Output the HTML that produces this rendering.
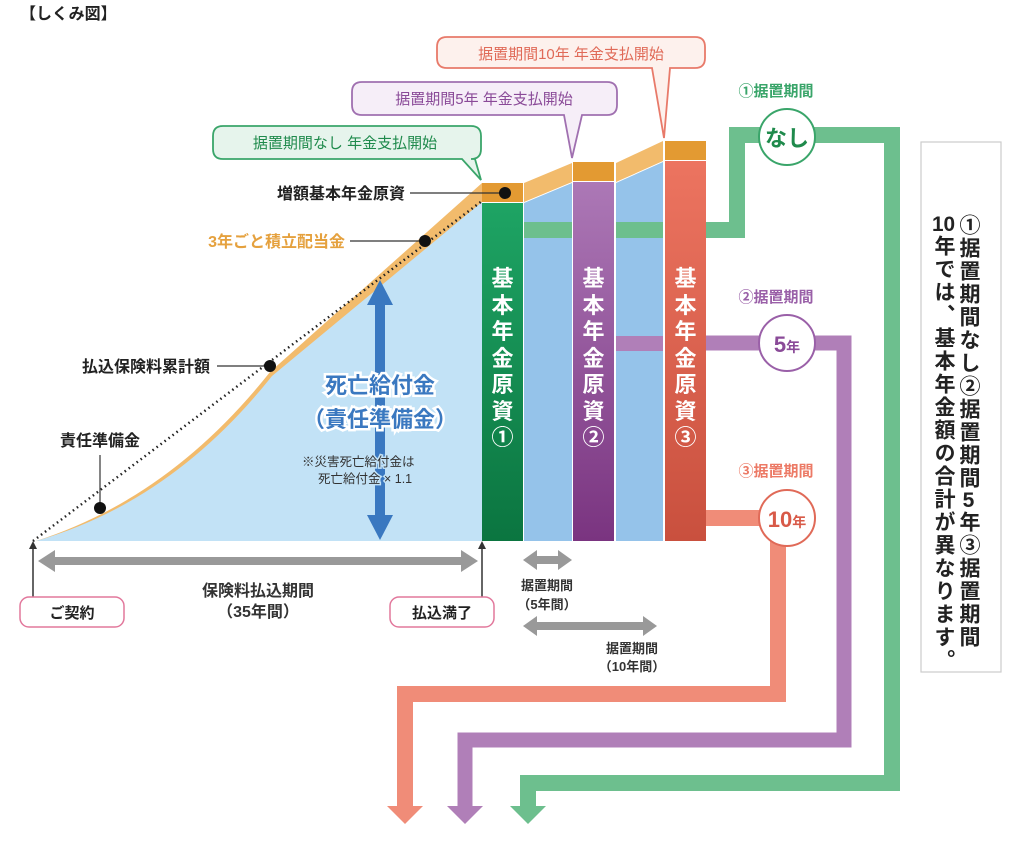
<!DOCTYPE html>
<html><head><meta charset="utf-8">
<style>
body{margin:0;background:#fff;}
#w{position:relative;width:1024px;height:848px;overflow:hidden;font-family:"Liberation Sans","Noto Sans CJK JP",sans-serif;}
svg{position:absolute;left:0;top:0;}
svg text{font-family:"Liberation Sans","Noto Sans CJK JP",sans-serif;font-weight:bold;}
.vc{position:absolute;writing-mode:vertical-rl;font-weight:bold;font-size:21px;line-height:24px;letter-spacing:2px;color:#222;}
.col{position:absolute;width:41px;text-align:center;color:#fff;font-weight:bold;font-size:22px;line-height:26.5px;}
.tcy{text-combine-upright:all;}
</style></head><body><div id="w">
<svg width="1024" height="848" viewBox="0 0 1024 848">
<text x="20" y="19" font-size="16" fill="#222">【しくみ図】</text>
<g fill="none" stroke-linejoin="miter">
<polyline points="706,230 737,230 737,135 892,135 892,783 528,783 528,808" stroke="#6dbf8e" stroke-width="16"/>
<polyline points="706,343 844,343 844,740 465,740 465,808" stroke="#b07fb8" stroke-width="15"/>
<polyline points="706,518 778,518 778,694 405,694 405,808" stroke="#f08c78" stroke-width="16"/>
</g>
<polygon points="387,806 423,806 405,824" fill="#f08c78"/>
<polygon points="447,806 483,806 465,824" fill="#b07fb8"/>
<polygon points="510,806 546,806 528,824" fill="#6dbf8e"/>
<circle cx="787" cy="137" r="28" fill="#fff" stroke="#3aa56a" stroke-width="2"/>
<text x="787" y="146" font-size="22" fill="#1f8a4c" text-anchor="middle">なし</text>
<circle cx="787" cy="343" r="28" fill="#fff" stroke="#9a60a8" stroke-width="2"/>
<text x="787" y="352" font-size="22" fill="#8a4a98" text-anchor="middle">5<tspan font-size="14">年</tspan></text>
<circle cx="787" cy="518" r="28" fill="#fff" stroke="#e06a58" stroke-width="2"/>
<text x="787" y="527" font-size="22" fill="#d85a48" text-anchor="middle">10<tspan font-size="14">年</tspan></text>
<text x="776" y="96" font-size="15" fill="#3aa56a" text-anchor="middle">①据置期間</text>
<text x="776" y="302" font-size="15" fill="#9a60a8" text-anchor="middle">②据置期間</text>
<text x="776" y="476" font-size="15" fill="#ec7a66" text-anchor="middle">③据置期間</text>
<path d="M36,541 Q170,498 270,372 L482,183 L482,541 Z" fill="#f2bb6c"/>
<path d="M36,541 Q172,502 272,376 L482,202 L482,541 Z" fill="#c2e2f6"/>
<line x1="33" y1="541" x2="482" y2="201" stroke="#222" stroke-width="2.5" stroke-dasharray="1.5,3.5"/>
<polygon points="524,183 572,163 572,182 524,202" fill="#f2bb6c"/>
<polygon points="524,203 572,183 572,541 524,541" fill="#95c3ea"/>
<polygon points="616,163 663,141 663,161 616,182" fill="#f2bb6c"/>
<polygon points="616,183 663,162 663,541 616,541" fill="#95c3ea"/>
<rect x="524" y="222" width="48" height="16" fill="#6dbf8e"/>
<rect x="616" y="222" width="47" height="16" fill="#6dbf8e"/>
<rect x="616" y="336" width="47" height="15" fill="#b07fb8"/>
<defs>
<linearGradient id="g1" x1="0" y1="0" x2="0" y2="1"><stop offset="0" stop-color="#1ea464"/><stop offset="1" stop-color="#0b7540"/></linearGradient>
<linearGradient id="g2" x1="0" y1="0" x2="0" y2="1"><stop offset="0" stop-color="#ac78b6"/><stop offset="1" stop-color="#7a3480"/></linearGradient>
<linearGradient id="g3" x1="0" y1="0" x2="0" y2="1"><stop offset="0" stop-color="#ec7460"/><stop offset="1" stop-color="#c9503e"/></linearGradient>
</defs>
<rect x="482" y="183" width="41" height="19" fill="#e39a32"/>
<rect x="482" y="203" width="41" height="338" fill="url(#g1)"/>
<rect x="573" y="162" width="41" height="19" fill="#e39a32"/>
<rect x="573" y="182" width="41" height="359" fill="url(#g2)"/>
<rect x="665" y="141" width="41" height="19" fill="#e39a32"/>
<rect x="665" y="161" width="41" height="380" fill="url(#g3)"/>
<g stroke="#333" stroke-width="1.2">
<line x1="410" y1="193" x2="505" y2="193"/>
<line x1="350" y1="241" x2="425" y2="241"/>
<line x1="217" y1="366" x2="270" y2="366"/>
<line x1="100" y1="455" x2="100" y2="508"/>
</g>
<g fill="#111"><circle cx="505" cy="193" r="6"/><circle cx="425" cy="241" r="6"/><circle cx="270" cy="366" r="6"/><circle cx="100" cy="508" r="6"/></g>
<text x="405" y="199" font-size="16" fill="#222" text-anchor="end">増額基本年金原資</text>
<text x="345" y="247" font-size="16" fill="#e5a13e" text-anchor="end">3年ごと積立配当金</text>
<text x="210" y="372" font-size="16" fill="#222" text-anchor="end">払込保険料累計額</text>
<text x="100" y="446" font-size="16" fill="#222" text-anchor="middle">責任準備金</text>
<rect x="375" y="300" width="10" height="220" fill="#3a78c0"/>
<polygon points="380,280 393,305 367,305" fill="#3a78c0"/>
<polygon points="380,540 393,515 367,515" fill="#3a78c0"/>
<g font-size="22" fill="#3a78c0" stroke="#fff" stroke-width="5" paint-order="stroke" text-anchor="middle">
<text x="380" y="393">死亡給付金</text>
<text x="380" y="427">（責任準備金）</text>
</g>
<g font-size="12.5" fill="#333" stroke="#c2e2f6" stroke-width="3" paint-order="stroke">
<text x="302" y="466" style="font-weight:normal">※災害死亡給付金は</text>
<text x="318" y="483" style="font-weight:normal">死亡給付金 × 1.1</text>
</g>
<rect x="50" y="557" width="416" height="8" fill="#999"/>
<polygon points="38,561 55,550 55,572" fill="#999"/>
<polygon points="478,561 461,550 461,572" fill="#999"/>
<g stroke="#333" stroke-width="1.5"><line x1="33" y1="546" x2="33" y2="598"/><line x1="482" y1="546" x2="482" y2="598"/></g>
<polygon points="33,541 29,549 37,549" fill="#333"/><polygon points="482,541 478,549 486,549" fill="#333"/>
<rect x="20" y="597" width="104" height="30" rx="9" fill="#fff" stroke="#e2789c" stroke-width="1.5"/>
<rect x="390" y="597" width="104" height="30" rx="9" fill="#fff" stroke="#e2789c" stroke-width="1.5"/>
<text x="72" y="618" font-size="15" fill="#222" text-anchor="middle">ご契約</text>
<text x="442" y="618" font-size="15" fill="#222" text-anchor="middle">払込満了</text>
<text x="258" y="596" font-size="16" fill="#333" text-anchor="middle">保険料払込期間</text>
<text x="258" y="617" font-size="16" fill="#333" text-anchor="middle">（35年間）</text>
<rect x="535" y="556" width="26" height="8" fill="#999"/>
<polygon points="523,560 537,550 537,570" fill="#999"/><polygon points="572,560 558,550 558,570" fill="#999"/>
<rect x="535" y="622" width="110" height="8" fill="#999"/>
<polygon points="523,626 537,616 537,636" fill="#999"/><polygon points="657,626 643,616 643,636" fill="#999"/>
<g font-size="13" fill="#333" text-anchor="middle">
<text x="547" y="590">据置期間</text><text x="547" y="609">（5年間）</text>
<text x="632" y="653">据置期間</text><text x="632" y="671">（10年間）</text>
</g>
<path d="M447,37 H695 Q705,37 705,47 V58 Q705,68 695,68 H670 L664,138 L652,68 H447 Q437,68 437,58 V47 Q437,37 447,37 Z" fill="#fdf1ed" stroke="#e87a6a" stroke-width="1.8"/>
<text x="571" y="59" font-size="15" fill="#e06a58" text-anchor="middle" style="font-weight:normal">据置期間10年 年金支払開始</text>
<path d="M362,82 H607 Q617,82 617,92 V105 Q617,115 607,115 H582 L572,158 L564,115 H362 Q352,115 352,105 V92 Q352,82 362,82 Z" fill="#f6eef8" stroke="#a070b0" stroke-width="1.8"/>
<text x="484" y="104" font-size="15" fill="#8a4a98" text-anchor="middle" style="font-weight:normal">据置期間5年 年金支払開始</text>
<path d="M223,126 H471 Q481,126 481,136 V149 Q481,159 471,159 H475 L481,180 L462,159 H223 Q213,159 213,149 V136 Q213,126 223,126 Z" fill="#e6f4ec" stroke="#3aa56a" stroke-width="1.8"/>
<text x="345" y="148" font-size="15" fill="#1f8a4c" text-anchor="middle" style="font-weight:normal">据置期間なし 年金支払開始</text>
<rect x="921" y="142" width="80" height="530" fill="#fff" stroke="#ccc" stroke-width="1.2"/>
</svg>
<div class="col" style="left:482px;top:266px">基<br>本<br>年<br>金<br>原<br>資<br>①</div>
<div class="col" style="left:573px;top:266px">基<br>本<br>年<br>金<br>原<br>資<br>②</div>
<div class="col" style="left:665px;top:266px">基<br>本<br>年<br>金<br>原<br>資<br>③</div>
<div class="vc" style="left:956px;top:214px">①据置期間なし②据置期間<span class="tcy">5</span>年③据置期間</div>
<div class="vc" style="left:931px;top:214px"><span class="tcy">10</span>年では、基本年金額の合計が異なります。</div>
</div></body></html>
